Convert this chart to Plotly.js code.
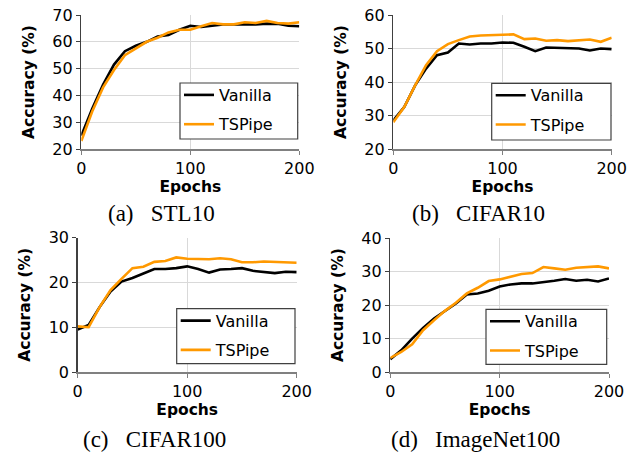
<!DOCTYPE html>
<html>
<head>
<meta charset="utf-8">
<script src="https://cdn.plot.ly/plotly-3.0.1.min.js"></script>
<style>
html,body{margin:0;padding:0;background:#fff;}
#chart{width:627px;height:452px;}
</style>
</head>
<body>
<div id="chart"></div>
<script>
// ---- data ----
const epochs = [0,10,20,30,40,50,60,70,80,90,100,110,120,130,140,150,160,170,180,190,200];

const stl10Vanilla = [25,35,44,51.5,56.5,58.5,60,62,62.5,64.5,66,65.5,66,66.5,66.5,66.5,66.5,66.8,66.7,66,65.8];
const stl10TSPipe  = [23,34,43,49.5,55,57.5,60,61.5,63.5,64.5,64.5,65.8,67,66.5,66.5,67.3,67,67.8,67,66.8,67.3];

const cifar10Vanilla = [28.5,32.5,39,44,48,48.8,51.5,51.2,51.5,51.5,51.8,51.7,50.5,49.2,50.3,50.2,50.2,50,49.4,50,49.8];
const cifar10TSPipe  = [28,32.5,39,45,49.2,51.3,52.5,53.6,53.9,54,54.3,54.2,52.8,53,52.3,52.5,52.2,52.4,52.7,52,53.2];

const cifar100Vanilla = [9.5,10.5,14.5,18,20.2,21,22,23,23,23.2,23.6,23,22.2,22.9,23,23.2,22.6,22.3,22.1,22.4,22.3];
const cifar100TSPipe  = [10.2,10,14.5,18.3,20.8,23.2,23.5,24.6,24.8,25.6,25.3,25.2,25.2,25.4,25.2,24.5,24.5,24.7,24.6,24.5,24.4];

const imagenetVanilla = [3.8,6.5,10,13.2,16,18.3,20.5,23.2,23.5,24.3,25.6,26.2,26.5,26.5,26.8,27.3,27.8,27.3,27.6,27.1,28];
const imagenetTSPipe  = [4.2,6,8.3,12.5,15.5,18.3,20.7,23.5,25.2,27.2,27.7,28.5,29.3,29.6,31.4,31,30.6,31.2,31.4,31.6,31];

const seriesNames = ['Vanilla','TSPipe'];
const seriesColors = ['#000000','#FF9900'];
const captions = ['(a)   STL10','(b)   CIFAR10','(c)   CIFAR100','(d)   ImageNet100'];
const yRanges = [[20,70],[20,60],[0,30],[0,40]];
const xTickLabels = ['0','100','200'];
const xTickVals = [0,100,200];

const panels = [
  [stl10Vanilla, stl10TSPipe],
  [cifar10Vanilla, cifar10TSPipe],
  [cifar100Vanilla, cifar100TSPipe],
  [imagenetVanilla, imagenetTSPipe]
];

// ---- layout geometry (pixels -> paper fractions) ----
const W = 627, H = 452;
const boxes = [
  {x0:81.3, x1:299.3, y0:15,    y1:149},
  {x0:393.3,x1:611.7, y0:15,    y1:149},
  {x0:77.7, x1:296.7, y0:237.7, y1:372},
  {x0:390.3,x1:609,   y0:238.3, y1:372}
];
const legendBoxes = [
  {x0:180,   x1:297.7, y0:83,    y1:139},
  {x0:491.7, x1:611,   y0:83.3,  y1:140},
  {x0:176.7, x1:295,   y0:308.7, y1:363.7},
  {x0:486,   x1:606.7, y0:309.3, y1:364.3}
];
const capPos = [
  {x:161.5, y:213},
  {x:478,   y:213},
  {x:154.5, y:439},
  {x:475,   y:439}
];

const tickFont = {family:'DejaVu Sans, sans-serif', size:16, color:'#000'};
const titleFont = {family:'DejaVu Sans, sans-serif', size:15.5, color:'#000', weight:'bold'};

const traces = [];
const layout = {
  width: W, height: H,
  margin: {l:0, r:0, t:0, b:0},
  paper_bgcolor:'#fff', plot_bgcolor:'#fff',
  showlegend: true,
  annotations: [],
  shapes: []
};

panels.forEach((pair, i) => {
  const n = i + 1;
  const xa = 'x' + (n === 1 ? '' : n);
  const ya = 'y' + (n === 1 ? '' : n);
  const lg = 'legend' + (n === 1 ? '' : n);
  pair.forEach((vals, s) => {
    traces.push({
      x: epochs, y: vals, type:'scatter', mode:'lines',
      name: seriesNames[s],
      line: {color: seriesColors[s], width: 2.6},
      xaxis: xa, yaxis: ya, legend: lg,
      legendgroup: 'g' + n + s,
      hoverinfo:'skip'
    });
  });
  const b = boxes[i];
  layout['xaxis' + (n === 1 ? '' : n)] = {
    domain: [b.x0 / W, b.x1 / W],
    anchor: ya,
    range: [0, 200],
    tickvals: xTickVals, ticktext: xTickLabels,
    showgrid: true, gridcolor:'#d9d9d9', gridwidth:1,
    zeroline:false,
    showline:true, linecolor:'#808080', linewidth:1.5,
    ticks:'outside', ticklen:4, tickcolor:'#808080',
    tickfont: tickFont,
    title: {text:'Epochs', font: titleFont, standoff: 0}
  };
  layout['yaxis' + (n === 1 ? '' : n)] = {
    domain: [1 - b.y1 / H, 1 - b.y0 / H],
    anchor: xa,
    range: yRanges[i],
    dtick: 10,
    showgrid: true, gridcolor:'#d9d9d9', gridwidth:1,
    zeroline:false,
    showline:true, linecolor:'#404040', linewidth:1.5,
    ticks:'outside', ticklen:4, tickcolor:'#404040',
    tickfont: tickFont,
    title: {text:'Accuracy (%)', font: titleFont, standoff: 14}
  };
  const L = legendBoxes[i];
  // legend frame (white box with dark border) drawn over the plot lines
  layout.shapes.push({
    type:'rect', xref:'paper', yref:'paper', layer:'above',
    x0: L.x0 / W, x1: L.x1 / W, y0: 1 - L.y1 / H, y1: 1 - L.y0 / H,
    fillcolor:'#fff', line:{color:'#404040', width:1.2}
  });
  layout[lg] = {
    x: (L.x0 - 1) / W, y: 1 - (L.y0 - 5) / H,
    xanchor:'left', yanchor:'top',
    bgcolor:'rgba(0,0,0,0)', borderwidth:0,
    font: {family:'DejaVu Sans, sans-serif', size:16, color:'#000'},
    tracegroupgap: 5.5,
    traceorder:'grouped'
  };
  layout.annotations.push({
    text: captions[i], xref:'paper', yref:'paper',
    x: capPos[i].x / W, y: 1 - capPos[i].y / H,
    xanchor:'center', yanchor:'middle', showarrow:false,
    font: {family:'Liberation Serif, Times New Roman, serif', size:23, color:'#000'}
  });
});

Plotly.newPlot('chart', traces, layout, {staticPlot:true, displayModeBar:false});
</script>
</body>
</html>
